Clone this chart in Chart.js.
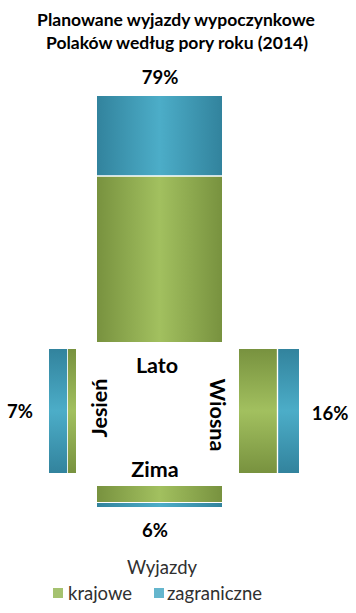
<!DOCTYPE html>
<html>
<head>
<meta charset="utf-8">
<script src="https://cdn.jsdelivr.net/npm/chart.js@4.4.1/dist/chart.umd.min.js"></script>
<style>
  html, body { margin: 0; padding: 0; background: #fff; }
  body { width: 356px; height: 613px; position: relative; overflow: hidden; font-family: "Lato", "Open Sans", sans-serif; }
  canvas { position: absolute; display: block; }
  .t { position: absolute; white-space: nowrap; transform: translate(-50%, -50%); line-height: 1; color: #000; }
  .title { font-weight: bold; font-size: 17.5px; }
  .pct { font-weight: bold; font-size: 18.5px; }
  .season { font-weight: bold; font-size: 21.5px; }
  .legtitle { font-size: 18.5px; color: #303030; }
  .legitem { position: absolute; font-size: 18.5px; color: #303030; line-height: 1; transform: translateY(-50%); white-space: nowrap; }
  .sw { position: absolute; width: 10px; height: 10px; }
</style>
</head>
<body>
<script>
// ---- data ----
const seasons = ['Lato', 'Wiosna', 'Zima', 'Jesień'];
const krajowe = [53, 10, 4.5, 2];
const zagraniczne = [26, 6, 1.5, 5];
const seriesNames = ['krajowe', 'zagraniczne'];
const titleLines = ['Planowane wyjazdy wypoczynkowe', 'Polaków według pory roku (2014)'];
const legendTitle = 'Wyjazdy';

// ---- styling ----
const GREEN_EDGE = '#78923f', GREEN_MID = '#a2c05f';
const BLUE_EDGE = '#32839d', BLUE_MID = '#4cadc8';
const GREEN_KEY = '#a5c270', BLUE_KEY = '#65b6cd';

function grad(edge, mid, horizontalBar) {
  return function (ctx) {
    const chart = ctx.chart;
    const a = chart.chartArea;
    if (!a) return mid;
    const g = horizontalBar
      ? chart.ctx.createLinearGradient(0, a.top, 0, a.bottom)
      : chart.ctx.createLinearGradient(a.left, 0, a.right, 0);
    g.addColorStop(0, edge);
    g.addColorStop(0.5, mid);
    g.addColorStop(1, edge);
    return g;
  };
}

// placement of each small bar chart
const layouts = {
  'Lato':   { x: 97,  y: 96,  w: 125, h: 246, horiz: false, rev: false, gap: { top: 0, bottom: 2, left: 0, right: 0 } },
  'Wiosna': { x: 239, y: 349, w: 60,  h: 124, horiz: true,  rev: false, gap: { top: 0, bottom: 0, left: 2, right: 0 } },
  'Zima':   { x: 97,  y: 486, w: 125, h: 21,  horiz: false, rev: true,  gap: { top: 1.7, bottom: 0, left: 0, right: 0 } },
  'Jesień': { x: 49,  y: 349, w: 27,  h: 124, horiz: true,  rev: true,  gap: { top: 0, bottom: 0, left: 0, right: 1.5 } }
};

seasons.forEach((s, i) => {
  const L = layouts[s];
  const c = document.createElement('canvas');
  c.width = L.w; c.height = L.h;
  c.style.left = L.x + 'px'; c.style.top = L.y + 'px';
  c.style.width = L.w + 'px'; c.style.height = L.h + 'px';
  document.body.appendChild(c);
  const total = krajowe[i] + zagraniczne[i];
  const valAxis = { display: false, stacked: true, min: 0, max: total, reverse: L.rev, grid: { display: false } };
  const catAxis = { display: false, stacked: true, grid: { display: false } };
  new Chart(c, {
    type: 'bar',
    data: {
      labels: [s],
      datasets: [
        { label: seriesNames[0], data: [krajowe[i]], backgroundColor: grad(GREEN_EDGE, GREEN_MID, L.horiz),
          borderWidth: 0, barPercentage: 1, categoryPercentage: 1 },
        { label: seriesNames[1], data: [zagraniczne[i]], backgroundColor: grad(BLUE_EDGE, BLUE_MID, L.horiz),
          borderColor: '#ffffff', borderWidth: L.gap, borderSkipped: false, barPercentage: 1, categoryPercentage: 1 }
      ]
    },
    options: {
      indexAxis: L.horiz ? 'y' : 'x',
      responsive: false,
      animation: false,
      devicePixelRatio: 1,
      layout: { padding: 0 },
      plugins: { legend: { display: false }, tooltip: { enabled: false }, title: { display: false } },
      scales: L.horiz ? { x: valAxis, y: catAxis } : { x: catAxis, y: valAxis }
    }
  });
});

// ---- texts ----
function addText(txt, cls, x, y, rot) {
  const d = document.createElement('div');
  d.className = 't ' + cls;
  d.textContent = txt;
  d.style.left = x + 'px'; d.style.top = y + 'px';
  if (rot) d.style.transform = 'translate(-50%, -50%) rotate(' + rot + 'deg)';
  document.body.appendChild(d);
}
addText(titleLines[0], 'title', 176, 20);
addText(titleLines[1], 'title', 177, 43);

const pctPos = { 'Lato': [160, 77], 'Wiosna': [330, 413], 'Zima': [155, 530], 'Jesień': [20, 411] };
const namePos = { 'Lato': [157, 366, 0], 'Wiosna': [217, 415, 90], 'Zima': [155, 470, 0], 'Jesień': [100, 408, -90] };
seasons.forEach((s, i) => {
  const tot = krajowe[i] + zagraniczne[i];
  addText(Math.round(tot) + '%', 'pct', pctPos[s][0], pctPos[s][1]);
  addText(s, 'season', namePos[s][0], namePos[s][1], namePos[s][2]);
});

addText(legendTitle, 'legtitle', 162, 567);
const legendItems = [
  { name: seriesNames[0], color: GREEN_KEY, sx: 53, tx: 68 },
  { name: seriesNames[1], color: BLUE_KEY, sx: 154, tx: 167 }
];
legendItems.forEach(it => {
  const sw = document.createElement('div');
  sw.className = 'sw';
  sw.style.left = it.sx + 'px'; sw.style.top = '588px'; sw.style.background = it.color;
  document.body.appendChild(sw);
  const t = document.createElement('div');
  t.className = 'legitem';
  t.textContent = it.name;
  t.style.left = it.tx + 'px'; t.style.top = '593px';
  document.body.appendChild(t);
});
</script>
</body>
</html>
